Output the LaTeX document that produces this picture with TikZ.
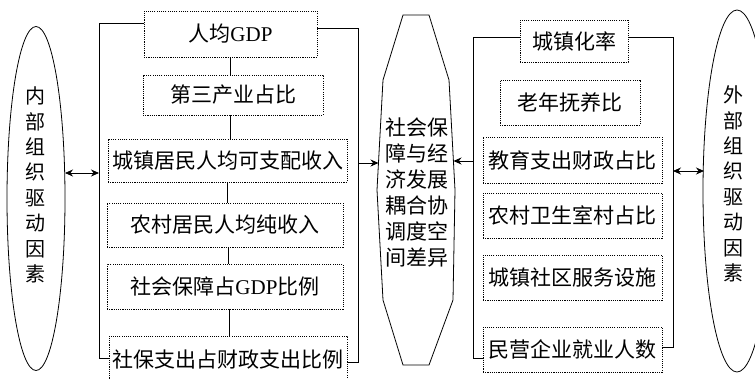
\documentclass[tikz,border=0pt]{standalone}
\usepackage{fontspec}
\setmainfont{Liberation Serif}
\newfontfamily\cjk{Noto Sans CJK SC}
\usetikzlibrary{arrows.meta,shapes.geometric}
\begin{document}
\begin{tikzpicture}[x=1pt,y=-1pt,line width=0.8pt,
  dbox/.style={draw,dash pattern=on 1.1pt off 1.1pt,inner sep=0pt,font=\fontsize{21}{21}\selectfont\cjk},
  arr/.style={-{Stealth[length=8pt,width=7pt]}},
  darr/.style={{Stealth[length=8pt,width=7pt]}-{Stealth[length=8pt,width=7pt]}},
  oval/.style={draw,ellipse,inner sep=0pt},
  vtext/.style={inner sep=0pt,align=center,font=\fontsize{20}{25.4}\selectfont\cjk},
  ctext/.style={inner sep=0pt,align=center,font=\fontsize{21}{26}\selectfont\cjk}]
\useasboundingbox (0,0) rectangle (755,378);

% side ellipses
\node[oval,minimum width=58pt,minimum height=344pt] (E1) at (36,198.5) {};
\node[vtext] (T1) at (35,185) {内\\部\\组\\织\\驱\\动\\因\\素};
\node[oval,minimum width=68pt,minimum height=362pt] (E2) at (737,191) {};
\node[vtext] (T2) at (733,184) {外\\部\\组\\织\\驱\\动\\因\\素};

% central shape
\draw (403,15) -- (429,15) -- (449,80) -- (455,190) -- (453,300) -- (429,365)
      -- (403,365) -- (383,300) -- (377,190) -- (383,80) -- cycle;
\node[ctext] (C) at (416.5,193) {社会保\\障与经\\济发展\\耦合协\\调度空\\间差异};

% left group
\node[dbox,minimum width=173pt,minimum height=46pt] (A1) at (230.5,34) {人均{\rmfamily GDP}};
\node[dbox,minimum width=180pt,minimum height=40pt] (A2) at (233,95) {第三产业占比};
\node[dbox,minimum width=239pt,minimum height=43pt] (A3) at (227.5,160.5) {城镇居民人均可支配收入};
\node[dbox,minimum width=236pt,minimum height=44pt] (A4) at (225,225) {农村居民人均纯收入};
\node[dbox,minimum width=236pt,minimum height=45pt] (A5) at (225,286.5) {社会保障占{\rmfamily GDP}比例};
\node[dbox,minimum width=238pt,minimum height=48pt] (A6) at (228,360) {社保支出占财政支出比例};

\draw (A1.south) -- (A1.south |- A2.north);
\draw (A2.south -| 230,0) -- (A3.north -| 230,0);
\draw (A3.south) -- (A3.south |- A4.north);
\draw (A4.south -| 228,0) -- (A5.north -| 228,0);
\draw (A5.south -| 229,0) -- (A6.north -| 229,0);

\coordinate (LT) at (99,23);
\coordinate (LB) at (99,358);
\coordinate (RT) at (358,28);
\coordinate (RB) at (358,362);
\draw (A1.west |- LT) -- (LT) -- (LB) -- (A6.west |- LB);
\draw (A1.east |- RT) -- (RT) -- (RB) -- (A6.east |- RB);

% right group
\node[dbox,minimum width=108pt,minimum height=42pt] (B1) at (574,41) {城镇化率};
\node[dbox,minimum width=140pt,minimum height=45pt] (B2) at (570,102.5) {老年抚养比};
\node[dbox,minimum width=179pt,minimum height=46pt] (B3) at (572.5,160) {教育支出财政占比};
\node[dbox,minimum width=179pt,minimum height=45pt] (B4) at (572.5,215.5) {农村卫生室村占比};
\node[dbox,minimum width=179pt,minimum height=45pt] (B5) at (572.5,277.5) {城镇社区服务设施};
\node[dbox,minimum width=179pt,minimum height=45pt] (B6) at (572.5,349.5) {民营企业就业人数};

\coordinate (QT) at (473,37);
\coordinate (QB) at (473,358);
\coordinate (ST) at (673,37);
\coordinate (SB) at (673,347);
\draw (B1.west |- QT) -- (QT) -- (QB) -- (B6.west |- QB);
\draw (B1.east |- ST) -- (ST) -- (SB) -- (B6.east |- SB);

% arrows
\coordinate (LM) at (358,163);
\coordinate (CL) at (378.5,163);
\coordinate (RM) at (473,161);
\coordinate (CR) at (453.5,161);
\draw[arr] (LM) -- (CL);
\draw[arr] (RM) -- (CR);

\coordinate (E1a) at (65,173);
\coordinate (L1a) at (99,173);
\draw[darr] (E1a) -- (L1a);
\coordinate (S1a) at (673,171);
\coordinate (E2a) at (704,171);
\draw[darr] (S1a) -- (E2a);
\end{tikzpicture}
\end{document}
